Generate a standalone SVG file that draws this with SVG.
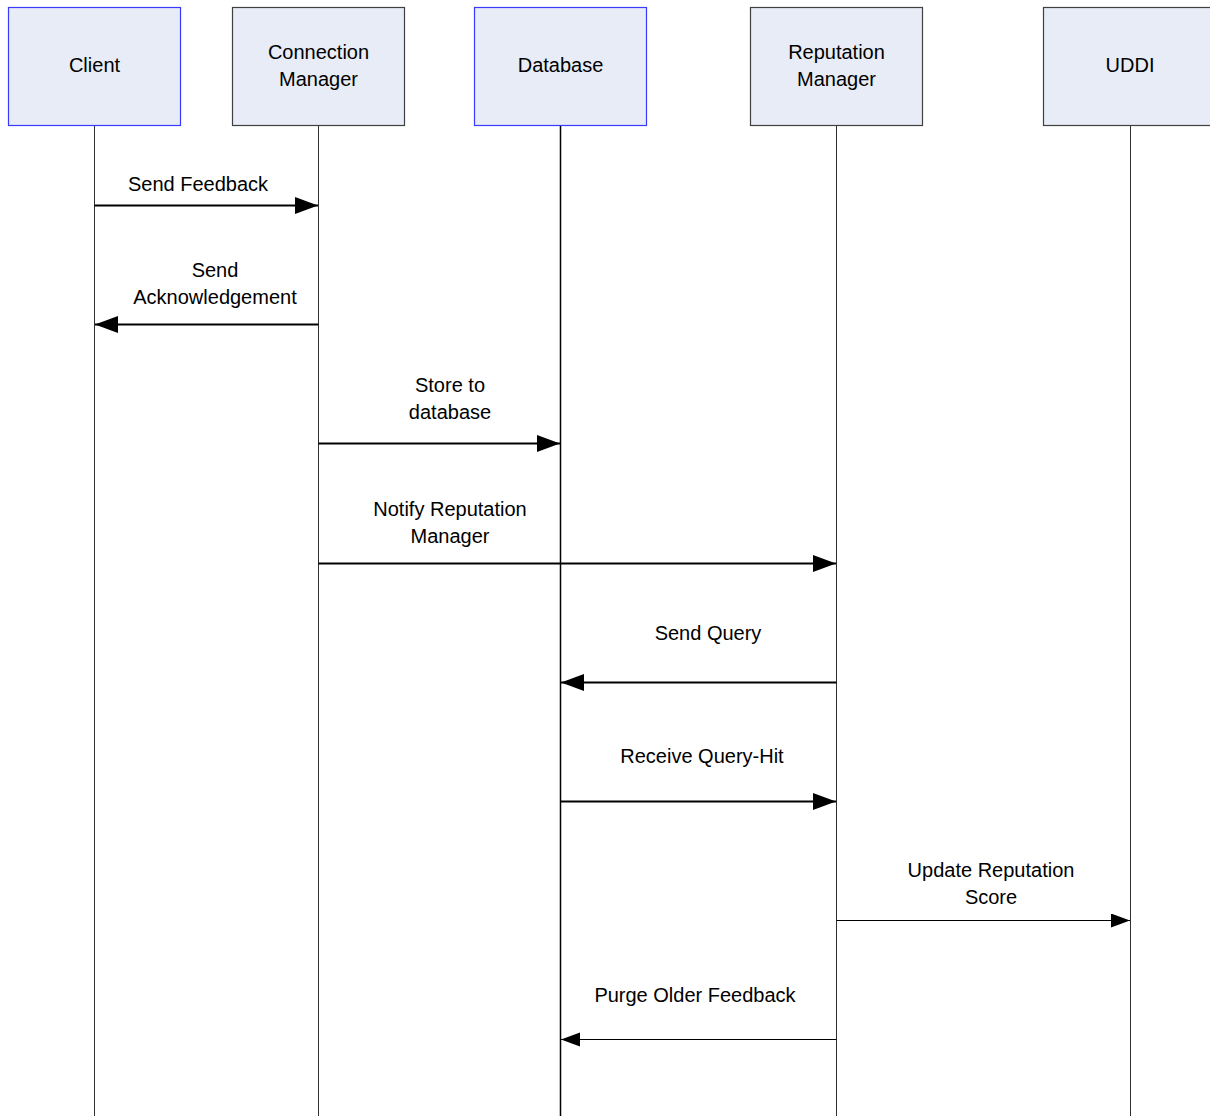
<svg xmlns="http://www.w3.org/2000/svg" width="1210" height="1116" viewBox="0 0 1210 1116">
  <style>
    .box { fill: #e7ecf6; stroke-width: 1.2; }
    .blue { stroke: #3a3aff; }
    .grey { stroke: #404040; }
    .life { stroke: #303030; stroke-width: 1; fill: none; }
    .msg { stroke: #000; stroke-width: 1.8; fill: none; }
    .msg-thin { stroke: #000; stroke-width: 1; fill: none; }
    text { font-family: "Liberation Sans", Arial, sans-serif; font-size: 20px; fill: #000; text-anchor: middle; }
  </style>
  <defs>
    <marker id="head" markerUnits="userSpaceOnUse" markerWidth="24" markerHeight="18" refX="23" refY="8.5" orient="auto">
      <polygon points="0,0 23,8.5 0,17" fill="#000"/>
    </marker>
    <marker id="head-small" markerUnits="userSpaceOnUse" markerWidth="20" markerHeight="16" refX="19" refY="7" orient="auto">
      <polygon points="0,0 19,7 0,14" fill="#000"/>
    </marker>
  </defs>

  <!-- lifelines -->
  <g id="lifelines">
    <line class="life" x1="94.5" y1="125" x2="94.5" y2="1116"/>
    <line class="life" x1="318.5" y1="125" x2="318.5" y2="1116"/>
    <line class="life" x1="560.5" y1="125" x2="560.5" y2="1116" style="stroke:#000;stroke-width:1.5"/>
    <line class="life" x1="836.5" y1="125" x2="836.5" y2="1116"/>
    <line class="life" x1="1130.5" y1="125" x2="1130.5" y2="1116"/>
  </g>

  <!-- participants -->
  <g id="client">
    <rect class="box blue" x="8.5" y="7.5" width="172" height="118"/>
    <text x="94.5" y="72">Client</text>
  </g>
  <g id="connection-manager">
    <rect class="box grey" x="232.5" y="7.5" width="172" height="118"/>
    <text x="318.5" y="59">Connection</text>
    <text x="318.5" y="86">Manager</text>
  </g>
  <g id="database">
    <rect class="box blue" x="474.5" y="7.5" width="172" height="118"/>
    <text x="560.5" y="72">Database</text>
  </g>
  <g id="reputation-manager">
    <rect class="box grey" x="750.5" y="7.5" width="172" height="118"/>
    <text x="836.5" y="59">Reputation</text>
    <text x="836.5" y="86">Manager</text>
  </g>
  <g id="uddi">
    <rect class="box grey" x="1043.5" y="7.5" width="172" height="118"/>
    <text x="1130" y="72">UDDI</text>
  </g>

  <!-- messages -->
  <g id="connectors">
    <line class="msg" x1="94.5" y1="205.5" x2="318" y2="205.5" marker-end="url(#head)"/>
    <text x="198" y="191">Send Feedback</text>

    <line class="msg" x1="318.5" y1="324.5" x2="95" y2="324.5" marker-end="url(#head)"/>
    <text x="215" y="277">Send</text>
    <text x="215" y="304">Acknowledgement</text>

    <line class="msg" x1="318.5" y1="443.5" x2="560" y2="443.5" marker-end="url(#head)"/>
    <text x="450" y="392">Store to</text>
    <text x="450" y="419">database</text>

    <line class="msg" x1="318.5" y1="563.5" x2="836" y2="563.5" marker-end="url(#head)"/>
    <text x="450" y="516">Notify Reputation</text>
    <text x="450" y="543">Manager</text>

    <line class="msg" x1="836.5" y1="682.5" x2="561" y2="682.5" marker-end="url(#head)"/>
    <text x="708" y="640">Send Query</text>

    <line class="msg" x1="560.5" y1="801.5" x2="836" y2="801.5" marker-end="url(#head)"/>
    <text x="702" y="763">Receive Query-Hit</text>

    <line class="msg-thin" x1="836.5" y1="920.5" x2="1130" y2="920.5" marker-end="url(#head-small)"/>
    <text x="991" y="877">Update Reputation</text>
    <text x="991" y="904">Score</text>

    <line class="msg-thin" x1="836.5" y1="1039.5" x2="561" y2="1039.5" marker-end="url(#head-small)"/>
    <text x="695" y="1002">Purge Older Feedback</text>
  </g>
</svg>
